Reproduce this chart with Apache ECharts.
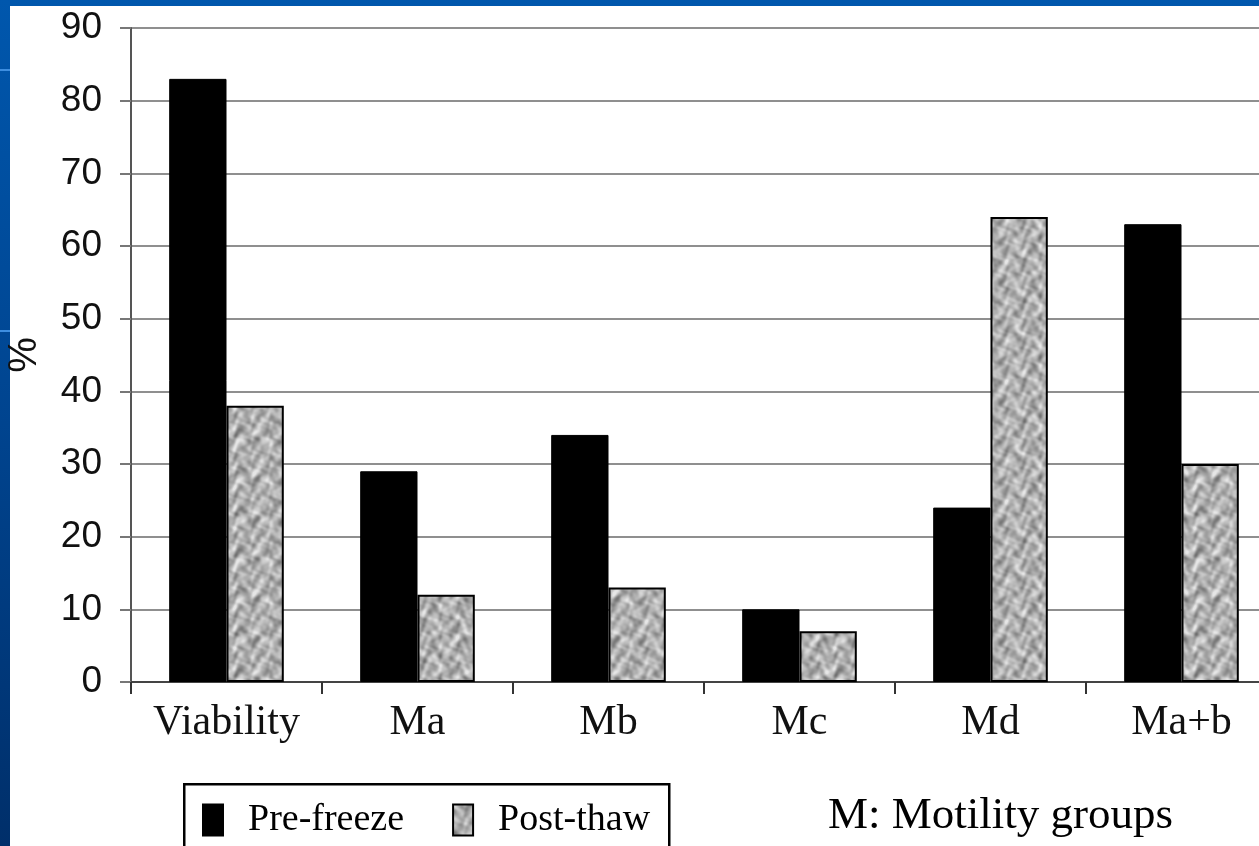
<!DOCTYPE html>
<html>
<head>
<meta charset="utf-8">
<script src="https://cdn.jsdelivr.net/npm/echarts@6/dist/echarts.min.js"></script>
<style>
  html, body { margin: 0; padding: 0; }
  body {
    width: 1259px; height: 846px; overflow: hidden; position: relative;
    background: linear-gradient(180deg, #0057ad 0%, #00448f 50%, #002f6a 100%);
  }
  #sheet { position: absolute; left: 10px; top: 6px; right: 0; bottom: 0; background: #ffffff; }
  .stripe { position: absolute; left: 0; width: 10px; height: 2px; background: #3d8ee0; }
  #chart { position: absolute; left: 0; top: 0; width: 1259px; height: 846px; }
</style>
</head>
<body>
<div class="stripe" style="top:69px"></div>
<div class="stripe" style="top:330px"></div>
<div id="sheet"></div>
<div id="chart"></div>
<script>
// Motility / viability groups
const categories = ['Viability', 'Ma', 'Mb', 'Mc', 'Md', 'Ma+b'];
// Percentages before freezing and after thawing
const preFreeze = [83, 29, 34, 10, 24, 63];
const postThaw = [38, 12, 13, 7, 64, 30];
const seriesNames = ['Pre-freeze', 'Post-thaw'];
const yTicks = { min: 0, max: 90, interval: 10 };
const noteText = 'M: Motility groups';

// Mottled grey fill for the post-thaw bars (built from periodic waves so it tiles)
function makeTexture() {
  const s = 120;
  const c = document.createElement('canvas');
  c.width = c.height = s;
  const ctx = c.getContext('2d');
  const img = ctx.createImageData(s, s);
  const w = 2 * Math.PI / s;
  for (let y = 0; y < s; y++) {
    for (let x = 0; x < s; x++) {
      const a = Math.sin(x * w * 4 + 2.8 * Math.sin(y * w * 3 + 0.7))
              + 0.9 * Math.sin(y * w * 6 + 2.4 * Math.sin(x * w * 5 + 1.3))
              + 0.7 * Math.sin((x + 2 * y) * w * 3 + 2.2 * Math.cos(x * w * 7 + 0.4))
              + 0.6 * Math.cos((2 * x - y) * w * 4 + 1.8 * Math.sin(y * w * 8 + 2.0))
              + 0.3 * Math.sin(x * w * 13 + 1.5 * Math.cos(y * w * 11));
      const g = Math.max(100, Math.min(230, 176 + a * 19));
      const i = (y * s + x) * 4;
      img.data[i] = img.data[i + 1] = img.data[i + 2] = g;
      img.data[i + 3] = 255;
    }
  }
  ctx.putImageData(img, 0, 0);
  return c;
}
const texture = makeTexture();

const chart = echarts.init(document.getElementById('chart'), null, { renderer: 'canvas' });

const sans = '"Liberation Sans", Arial, sans-serif';
const serif = '"Liberation Serif", "Times New Roman", serif';

const option = {
  backgroundColor: 'transparent',
  animation: false,
  grid: { left: 131, top: 28, width: 1146, bottom: 164, containLabel: false, outerBoundsMode: 'none' },
  legend: {
    data: seriesNames,
    left: 202,
    top: 801,
    orient: 'horizontal',
    icon: 'rect',
    itemWidth: 20,
    itemHeight: 31,
    itemGap: 48,
    padding: 0,
    textStyle: {
      fontFamily: serif,
      fontSize: 38,
      color: '#000',
      padding: [0, 0, 0, 20]
    }
  },
  xAxis: {
    type: 'category',
    data: categories,
    boundaryGap: true,
    axisLine: { show: true, lineStyle: { color: '#444', width: 2 } },
    axisTick: { show: true, inside: false, interval: 0, length: 12, alignWithLabel: false, lineStyle: { color: '#333', width: 2 } },
    axisLabel: {
      interval: 0,
      margin: 20,
      fontFamily: serif,
      fontSize: 42,
      color: '#111'
    },
    splitLine: { show: false }
  },
  yAxis: {
    type: 'value',
    min: yTicks.min,
    max: yTicks.max,
    interval: yTicks.interval,
    name: '%',
    nameLocation: 'middle',
    nameRotate: 90,
    nameGap: 86,
    nameTextStyle: {
      fontFamily: sans,
      fontSize: 40,
      color: '#111'
    },
    axisLine: { show: true, lineStyle: { color: '#555', width: 2 } },
    axisTick: { show: true, inside: false, length: 11, lineStyle: { color: '#777', width: 2 } },
    axisLabel: {
      margin: 29,
      fontFamily: sans,
      fontSize: 37,
      color: '#111'
    },
    splitLine: { show: true, lineStyle: { color: '#8f8f8f', width: 2 } }
  },
  series: [
    {
      name: seriesNames[0],
      type: 'bar',
      data: preFreeze,
      barGap: '0%',
      barCategoryGap: '40%',
      itemStyle: { color: '#000', borderColor: '#000', borderWidth: 1 }
    },
    {
      name: seriesNames[1],
      type: 'bar',
      data: postThaw,
      barGap: '0%',
      barCategoryGap: '40%',
      itemStyle: { color: { image: texture, repeat: 'repeat' }, borderColor: '#000', borderWidth: 2 }
    }
  ],
  graphic: [
    {
      type: 'rect',
      left: 183,
      top: 783,
      shape: { width: 485, height: 100 },
      style: { fill: 'transparent', stroke: '#000', lineWidth: 2.5 },
      z: 10
    },
    {
      type: 'text',
      left: 828,
      top: 794,
      style: {
        text: noteText,
        font: '45px "Liberation Serif", "Times New Roman", serif',
        fill: '#000'
      },
      z: 10
    }
  ]
};

chart.setOption(option);
</script>
</body>
</html>
